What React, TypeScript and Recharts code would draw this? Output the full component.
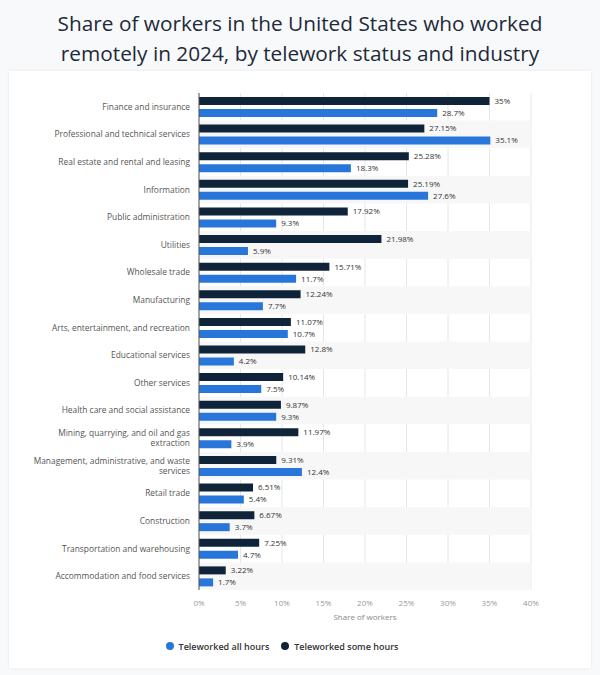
import React from "react";
import {
  BarChart,
  Bar,
  XAxis,
  YAxis,
  CartesianGrid,
  ReferenceArea,
  LabelList,
  Legend,
} from "recharts";

const industries = [
  "Finance and insurance",
  "Professional and technical services",
  "Real estate and rental and leasing",
  "Information",
  "Public administration",
  "Utilities",
  "Wholesale trade",
  "Manufacturing",
  "Arts, entertainment, and recreation",
  "Educational services",
  "Other services",
  "Health care and social assistance",
  "Mining, quarrying, and oil and gas extraction",
  "Management, administrative, and waste services",
  "Retail trade",
  "Construction",
  "Transportation and warehousing",
  "Accommodation and food services",
];

const someHours = [35, 27.15, 25.28, 25.19, 17.92, 21.98, 15.71, 12.24, 11.07, 12.8, 10.14, 9.87, 11.97, 9.31, 6.51, 6.67, 7.25, 3.22];
const allHours = [28.7, 35.1, 18.3, 27.6, 9.3, 5.9, 11.7, 7.7, 10.7, 4.2, 7.5, 9.3, 3.9, 12.4, 5.4, 3.7, 4.7, 1.7];

const xTicks = [0, 5, 10, 15, 20, 25, 30, 35, 40];

const DARK = "#0f2438";
const BLUE = "#2876d9";
const FONT = "'Open Sans', sans-serif";

const data = industries.map((name, i) => ({
  name,
  some: someHours[i],
  all: allHours[i],
}));

// split long category names over two lines
function wrap(text: string, max = 37): string[] {
  const words = text.split(" ");
  const lines: string[] = [];
  let cur = "";
  words.forEach((w) => {
    const next = cur ? cur + " " + w : w;
    if (next.length > max && cur) {
      lines.push(cur);
      cur = w;
    } else {
      cur = next;
    }
  });
  if (cur) lines.push(cur);
  return lines;
}

function CategoryTick(props: any) {
  const { x, y, payload } = props;
  const lines = wrap(payload.value);
  const lh = 10;
  const start = y - ((lines.length - 1) * lh) / 2;
  return (
    <text x={x} y={start} textAnchor="end" fontSize={8.4} fill="#555" fontFamily={FONT}>
      {lines.map((l, i) => (
        <tspan key={i} x={x} y={start + i * lh} dy="0.35em">
          {l}
        </tspan>
      ))}
    </text>
  );
}

function LegendContent() {
  const items = [
    { label: "Teleworked all hours", color: BLUE },
    { label: "Teleworked some hours", color: DARK },
  ];
  return (
    <div
      style={{
        height: 20,
        display: "flex",
        justifyContent: "center",
        alignItems: "center",
        gap: 12,
        paddingLeft: 24,
        fontFamily: FONT,
        fontSize: 9,
        fontWeight: 600,
        color: "#333",
      }}
    >
      {items.map((it) => (
        <div key={it.label} style={{ display: "flex", alignItems: "center", gap: 5 }}>
          <span style={{ width: 8, height: 8, borderRadius: 4, background: it.color, display: "inline-block" }} />
          {it.label}
        </div>
      ))}
    </div>
  );
}

export default function App() {
  return (
    <div
      style={{
        position: "absolute",
        left: 0,
        top: 0,
        width: 600,
        height: 675,
        background: "#f8f9fa",
        fontFamily: FONT,
      }}
    >
      <div
        style={{
          position: "absolute",
          left: 0,
          top: 8,
          width: 582,
          paddingLeft: 9,
          textAlign: "center",
          fontSize: 20.8,
          lineHeight: "30px",
          fontWeight: 500,
          color: "#1e2a3a",
        }}
      >
        Share of workers in the United States who worked
        <br />
        remotely in 2024, by telework status and industry
      </div>
      <div
        style={{
          position: "absolute",
          left: 9,
          top: 71,
          width: 582,
          height: 597,
          background: "#fff",
          boxShadow: "0 0 3px rgba(0,0,0,0.08)",
        }}
      >
        <BarChart
          width={582}
          height={597}
          data={data}
          layout="vertical"
          margin={{ top: 22, right: 60, left: 0, bottom: 12 }}
          barSize={8}
          barGap={4}
          style={{ fontFamily: FONT }}
        >
          {industries.map((name, i) =>
            i % 2 === 1 ? (
              <ReferenceArea
                key={name}
                y1={name}
                y2={name}
                fill="#f7f7f7"
                fillOpacity={1}
                stroke="none"
                ifOverflow="visible"
              />
            ) : null
          )}
          <CartesianGrid horizontal={false} stroke="#e6e6e6" />
          <XAxis
            type="number"
            domain={[0, 40]}
            ticks={xTicks}
            tickFormatter={(v: number) => `${v}%`}
            axisLine={false}
            tickLine={false}
            tick={{ fontSize: 8, fill: "#999" }}
            tickMargin={4}
            height={46}
            label={{ value: "Share of workers", position: "insideBottom", offset: 16, fontSize: 8, fill: "#888" }}
          />
          <YAxis
            type="category"
            dataKey="name"
            width={190}
            tickSize={0}
            tickMargin={9}
            axisLine={{ stroke: "#555" }}
            tickLine={false}
            tick={<CategoryTick />}
            interval={0}
          />
          <Legend verticalAlign="bottom" height={20} content={<LegendContent />} />
          <Bar dataKey="some" name="Teleworked some hours" fill={DARK} isAnimationActive={false}>
            <LabelList dataKey="some" position="right" offset={5} formatter={(v: number) => `${v}%`} fontSize={8} fill="#333" />
          </Bar>
          <Bar dataKey="all" name="Teleworked all hours" fill={BLUE} isAnimationActive={false}>
            <LabelList dataKey="all" position="right" offset={5} formatter={(v: number) => `${v}%`} fontSize={8} fill="#333" />
          </Bar>
        </BarChart>
      </div>
    </div>
  );
}
